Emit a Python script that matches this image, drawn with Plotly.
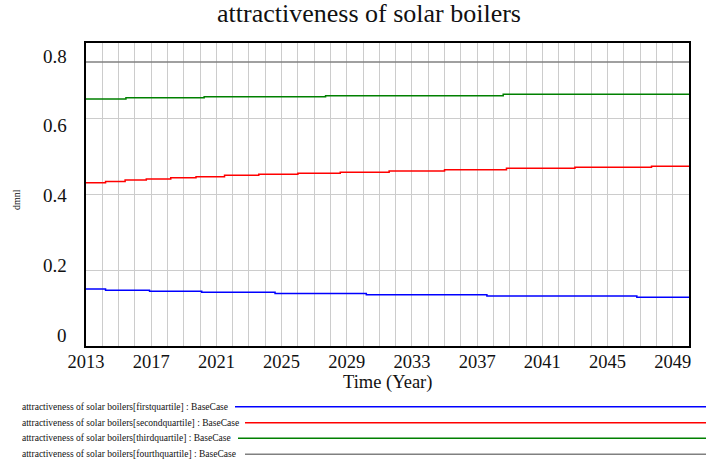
import plotly.graph_objects as go

# ---- data ----
title_text = "attractiveness of solar boilers"
y_label = "dmnl"
x_label = "Time (Year)"
quartiles = ["firstquartile", "secondquartile", "thirdquartile", "fourthquartile"]
run_name = "BaseCase"

t_end = 2050

first_t = [2013, 2014.2, 2016.9, 2020.1, 2024.6, 2030.2, 2037.6, 2046.8]
first_v = [0.1505, 0.147, 0.1443, 0.1417, 0.1383, 0.1355, 0.132, 0.1285]

second_t = [2013, 2014.2, 2015.4, 2016.7, 2018.2, 2019.75, 2021.5, 2023.6, 2026.0,
            2028.6, 2031.6, 2035.0, 2038.8, 2043.0, 2047.7]
second_v = [0.4312, 0.4345, 0.438, 0.4409, 0.4442, 0.447, 0.4505, 0.4532, 0.456,
            0.4586, 0.462, 0.4655, 0.469, 0.472, 0.4745]

third_t = [2013, 2015.45, 2020.25, 2027.7, 2038.6]
third_v = [0.6522, 0.6556, 0.6582, 0.6608, 0.6645]

fourth_t = [2013]
fourth_v = [0.75]

x_ticks = list(range(2013, 2050, 4))
y_ticks = [0, 0.2, 0.4, 0.6, 0.8]
y_tick_text = ["0", "0.2", "0.4", "0.6", "0.8"]

colors = ["#0000ff", "#ff0000", "#008000", "#808080"]

series = [(first_t, first_v), (second_t, second_v), (third_t, third_v), (fourth_t, fourth_v)]

FONT = '"Liberation Serif", "Times New Roman", Times, serif'

fig = go.Figure()
for (t, v), q, c in zip(series, quartiles, colors):
    tt = list(t) + [t_end]
    vv = list(v) + [v[-1]]
    fig.add_trace(go.Scatter(x=tt, y=vv, mode="lines", line_shape="hv",
                             line=dict(color=c, width=1.5),
                             name=f"{title_text}[{q}] : {run_name}",
                             showlegend=False))

W, H = 706, 466
L, R, T, B = 86, 689, 43, 346
pw, ph = R - L, B - T

fig.update_layout(
    width=W, height=H,
    margin=dict(l=L, r=W - R, t=T, b=H - B),
    paper_bgcolor="white", plot_bgcolor="white",
    font=dict(family=FONT, color="black"),
    title=dict(text=title_text, font=dict(size=26, family=FONT, color="#111"),
               x=369 / W, xanchor="center", xref="container",
               y=1 - 4 / H, yanchor="top", yref="container"),
)

fig.update_xaxes(range=[2013, t_end], tickvals=x_ticks, ticktext=[str(v) for v in x_ticks],
                 showgrid=True, gridcolor="#cccccc", gridwidth=1,
                 minor=dict(dtick=1, tick0=2013, showgrid=True, gridcolor="#cccccc", gridwidth=1),
                 showline=True, linecolor="black", linewidth=2, mirror=True,
                 ticks="", tickfont=dict(size=18.5, family=FONT, color="#111"),
                 ticklabelstandoff=-2,
                 zeroline=False)

fig.update_yaxes(range=[0, 0.8], tickvals=y_ticks, showticklabels=False,
                 showgrid=True, gridcolor="#cccccc", gridwidth=1,
                 showline=True, linecolor="black", linewidth=2, mirror=True,
                 ticks="", zeroline=False)

# x axis title
fig.add_annotation(x=0.5, xref="paper", y=(B - 382) / ph, yref="paper",
                   text=x_label, showarrow=False, xanchor="center", yanchor="middle",
                   font=dict(size=18.5, family=FONT, color="#111"))

# y tick labels (Vensim-style offsets)
for v, txt in zip(y_ticks, y_tick_text):
    fig.add_annotation(x=0, xref="paper", y=v, yref="y", text=txt, showarrow=False,
                       xanchor="right", yanchor="middle", xshift=-17,
                       yshift=11 - 24 * v / 0.8,
                       font=dict(size=19, family=FONT, color="#111"))

# y axis title
fig.add_annotation(x=(17 - L) / pw, xref="paper", y=(B - 200) / ph, yref="paper",
                   text=y_label, showarrow=False, textangle=-90,
                   xanchor="center", yanchor="middle",
                   font=dict(size=10, family=FONT, color="#111"))

# legend rows below chart
rows_y = [406.7, 422.7, 438.3, 454.3]
line_start = [235, 245, 238, 245]
for q, c, py, lx in zip(quartiles, colors, rows_y, line_start):
    fig.add_annotation(x=(20 - L) / pw, xref="paper", y=(B - py) / ph, yref="paper",
                       text=f"{title_text}[{q}] : {run_name}", showarrow=False,
                       xanchor="left", yanchor="middle",
                       font=dict(size=9.5, family=FONT, color="#111"))
    fig.add_shape(type="line", xref="paper", yref="paper",
                  x0=(lx - L) / pw, x1=(W - L) / pw, y0=(B - py) / ph, y1=(B - py) / ph,
                  line=dict(color=c, width=1.5))

fig.write_html("out.html", config={"displayModeBar": False},
               post_script="document.body.style.margin='0';document.body.style.overflow='hidden';")
